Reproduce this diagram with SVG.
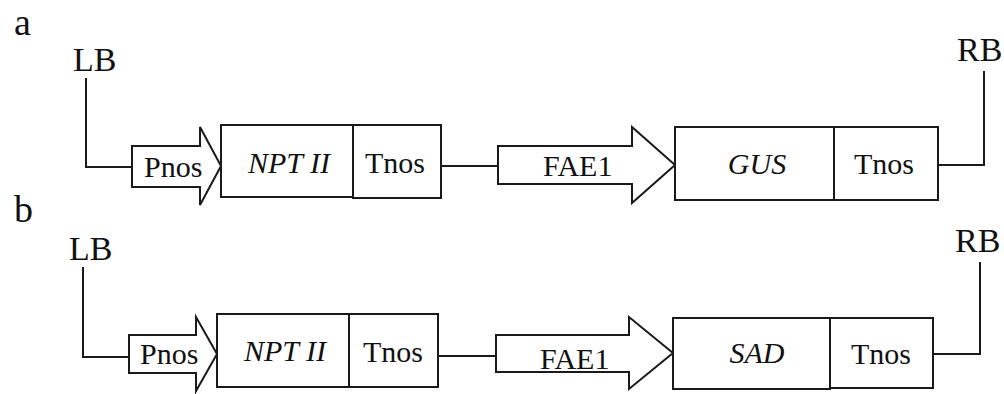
<svg xmlns="http://www.w3.org/2000/svg" width="1004" height="394" viewBox="0 0 1004 394">
<style>
  .bg{fill:#ffffff}
  .box{fill:#ffffff;stroke:#1a1a1a;stroke-width:2}
  .arrow{fill:#ffffff;stroke:#1a1a1a;stroke-width:2;stroke-linejoin:miter}
  .line{fill:none;stroke:#1a1a1a;stroke-width:2}
  .t{fill:#111111;font-family:"Liberation Serif","Times New Roman",Times,Tinos,"Nimbus Roman","Nimbus Roman No9 L",FreeSerif,"Noto Serif","DejaVu Serif",serif}
  .lab{font-size:30px}
  .mid{text-anchor:middle}
  .it{font-style:italic}
  .end{font-size:34px}
  .panel{font-size:38px}
</style>
<rect class="bg" x="0" y="0" width="1004" height="394"/>

<g id="panel-labels">
  <text class="t panel" x="14" y="35">a</text>
  <text class="t panel" x="14" y="222">b</text>
</g>

<g id="connectors">
  <path class="line" d="M86 78 V167 H132"/>
  <path class="line" d="M441 166 H498"/>
  <path class="line" d="M938 165 H984 V71"/>
  <path class="line" d="M83 267 V357 H129"/>
  <path class="line" d="M438 356 H496"/>
  <path class="line" d="M933 354 H980 V262"/>
</g>

<!-- Row a -->
<g id="a-LB"><text class="t end" x="73" y="71">LB</text></g>
<g id="a-Pnos">
  <polygon class="arrow" points="132,146 200,146 200,127 221,166 200,205 200,187 132,187"/>
  <text class="t lab" x="144" y="177">Pnos</text>
</g>
<g id="a-NPTII">
  <rect class="box" x="221" y="125" width="132" height="72"/>
  <text class="t lab mid it" x="289" y="173">NPT II</text>
</g>
<g id="a-Tnos1">
  <rect class="box" x="353" y="125" width="88" height="73"/>
  <text class="t lab mid" x="395" y="173">Tnos</text>
</g>
<g id="a-FAE1">
  <polygon class="arrow" points="498,146 632,146 632,127 675,165 632,203 632,184 498,184"/>
  <text class="t lab" x="543" y="176">FAE1</text>
</g>
<g id="a-GUS">
  <rect class="box" x="675" y="127" width="159" height="73"/>
  <text class="t lab mid it" x="757" y="174">GUS</text>
</g>
<g id="a-Tnos2">
  <rect class="box" x="834" y="127" width="104" height="73"/>
  <text class="t lab mid" x="884" y="174">Tnos</text>
</g>
<g id="a-RB"><text class="t end" x="957" y="61">RB</text></g>

<!-- Row b -->
<g id="b-LB"><text class="t end" x="69" y="260">LB</text></g>
<g id="b-Pnos">
  <polygon class="arrow" points="129,335 196,335 196,317 217,354 196,391 196,373 129,373"/>
  <text class="t lab" x="140" y="364">Pnos</text>
</g>
<g id="b-NPTII">
  <rect class="box" x="217" y="314" width="132" height="73"/>
  <text class="t lab mid it" x="285" y="361">NPT II</text>
</g>
<g id="b-Tnos1">
  <rect class="box" x="349" y="314" width="89" height="73"/>
  <text class="t lab mid" x="393" y="362">Tnos</text>
</g>
<g id="b-FAE1">
  <polygon class="arrow" points="496,335 629,335 629,317 673,353 629,389 629,372 496,372"/>
  <text class="t lab" x="540" y="369">FAE1</text>
</g>
<g id="b-SAD">
  <rect class="box" x="673" y="318" width="157" height="71"/>
  <text class="t lab mid it" x="757" y="363">SAD</text>
</g>
<g id="b-Tnos2">
  <rect class="box" x="830" y="318" width="103" height="70"/>
  <text class="t lab mid" x="881" y="364">Tnos</text>
</g>
<g id="b-RB"><text class="t end" x="955" y="252">RB</text></g>
</svg>
